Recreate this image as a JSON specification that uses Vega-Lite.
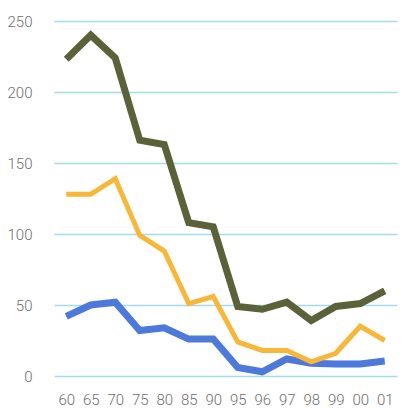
{
  "$schema": "https://vega.github.io/schema/vega-lite/v6.json",
  "autosize": {"type": "none"},
  "padding": {"left": 43, "top": 21, "right": 0, "bottom": 32},
  "width": 361,
  "height": 355,
  "background": "white",
  "config": {
    "view": {"stroke": null},
    "axis": {
      "labelFont": "Roboto",
      "labelFontWeight": 300,
      "labelFontSize": 15,
      "labelColor": "#6e6e6e",
      "domain": false,
      "ticks": false,
      "title": null
    }
  },
  "data": {
    "values": [
      {"yr": "60", "s": "g", "v": 223}, {"yr": "65", "s": "g", "v": 240}, {"yr": "70", "s": "g", "v": 224},
      {"yr": "75", "s": "g", "v": 166}, {"yr": "80", "s": "g", "v": 163}, {"yr": "85", "s": "g", "v": 108},
      {"yr": "90", "s": "g", "v": 105}, {"yr": "95", "s": "g", "v": 49}, {"yr": "96", "s": "g", "v": 47},
      {"yr": "97", "s": "g", "v": 52}, {"yr": "98", "s": "g", "v": 39}, {"yr": "99", "s": "g", "v": 49},
      {"yr": "00", "s": "g", "v": 51}, {"yr": "01", "s": "g", "v": 60},
      {"yr": "60", "s": "o", "v": 128}, {"yr": "65", "s": "o", "v": 128}, {"yr": "70", "s": "o", "v": 139},
      {"yr": "75", "s": "o", "v": 99}, {"yr": "80", "s": "o", "v": 88}, {"yr": "85", "s": "o", "v": 51},
      {"yr": "90", "s": "o", "v": 56}, {"yr": "95", "s": "o", "v": 24}, {"yr": "96", "s": "o", "v": 18},
      {"yr": "97", "s": "o", "v": 18}, {"yr": "98", "s": "o", "v": 10}, {"yr": "99", "s": "o", "v": 16},
      {"yr": "00", "s": "o", "v": 35}, {"yr": "01", "s": "o", "v": 25},
      {"yr": "60", "s": "b", "v": 42}, {"yr": "65", "s": "b", "v": 50}, {"yr": "70", "s": "b", "v": 52},
      {"yr": "75", "s": "b", "v": 32}, {"yr": "80", "s": "b", "v": 34}, {"yr": "85", "s": "b", "v": 26},
      {"yr": "90", "s": "b", "v": 26}, {"yr": "95", "s": "b", "v": 6}, {"yr": "96", "s": "b", "v": 3},
      {"yr": "97", "s": "b", "v": 12}, {"yr": "98", "s": "b", "v": 9}, {"yr": "99", "s": "b", "v": 8.5},
      {"yr": "00", "s": "b", "v": 8.5}, {"yr": "01", "s": "b", "v": 10.5}
    ]
  },
  "encoding": {
    "x": {
      "field": "yr",
      "type": "ordinal",
      "sort": null,
      "scale": {"type": "point", "range": [11, 354]},
      "axis": {"labelAngle": 0, "labelPadding": 16, "grid": false}
    },
    "y": {
      "field": "v",
      "type": "quantitative",
      "scale": {"domain": [0, 250], "nice": false},
      "axis": {
        "values": [0, 50, 100, 150, 200, 250],
        "labelPadding": 11,
        "grid": true,
        "gridColor": "#a3dcee",
        "gridWidth": 1.5
      }
    }
  },
  "layer": [
    {
      "transform": [{"filter": "datum.s === 'b'"}],
      "mark": {"type": "line", "color": "#4c79da", "strokeWidth": 7, "strokeJoin": "miter", "strokeCap": "butt"}
    },
    {
      "transform": [{"filter": "datum.s === 'o'"}],
      "mark": {"type": "line", "color": "#f9b73a", "strokeWidth": 5, "strokeJoin": "miter", "strokeCap": "butt"}
    },
    {
      "transform": [{"filter": "datum.s === 'g'"}],
      "mark": {"type": "line", "color": "#5b6139", "strokeWidth": 7, "strokeJoin": "miter", "strokeCap": "butt"}
    }
  ]
}
